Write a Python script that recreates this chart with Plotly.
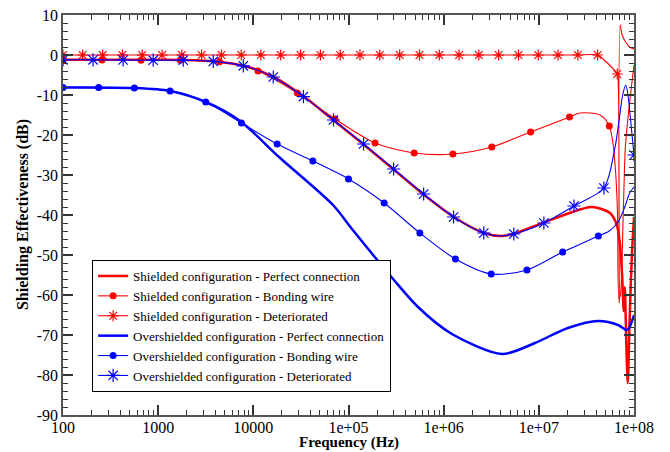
import plotly.graph_objects as go

# ---------------- data (frequency in Hz, shielding effectiveness in dB) ----------------
# Shielded configuration - Perfect connection
sh_perf_f = [100, 1000, 1830, 3950, 8000, 1.65e4, 3.4e4, 6.9e4, 1.42e5, 2.94e5, 6.07e5,
             1.28e6, 2.65e6, 4.0e6, 5.35e6, 1.1e7, 2.1e7, 3.6e7, 5.6e7, 6.6e7, 7.1e7,
             7.5e7, 7.8e7, 8.0e7, 8.3e7, 8.6e7, 9.0e7, 9.5e7, 1e8]
sh_perf_db = [-1.2, -1.2, -1.25, -1.6, -2.7, -5.5, -10.4, -16.25, -22.25, -28.5, -34.75,
              -40.5, -44.5, -45.25, -44.75, -42.0, -39.5, -38.0, -39.5, -42.5, -47.0,
              -55.0, -64.0, -58.0, -72.0, -82.0, -66.0, -50.0, -40.5]

# Shielded configuration - Bonding wire
sh_bond_f = [100, 257, 660, 1700, 4400, 1.12e4, 2.9e4, 7.2e4, 1.9e5, 4.9e5, 1.25e6,
             3.2e6, 8.2e6, 2.1e7, 2.7e7, 4.4e7, 5.5e7, 6.0e7, 6.4e7, 6.7e7, 6.95e7,
             7.2e7, 7.7e7, 8.1e7, 8.5e7, 9.1e7, 1e8]
sh_bond_db = [-1.2, -1.25, -1.3, -1.3, -1.7, -4.0, -9.5, -16.0, -22.0, -24.5, -24.75,
              -23.0, -19.25, -15.5, -14.5, -15.0, -17.75, -22.0, -29.0, -39.0, -61.0,
              -60.0, -40.0, -23.25, -17.5, -10.75, -2.5]
sh_bond_mf = [100, 257, 660, 1700, 4400, 1.12e4, 2.9e4, 7.2e4, 1.9e5, 4.9e5, 1.25e6,
              3.2e6, 8.2e6, 2.1e7, 5.5e7]
sh_bond_mdb = [-1.2, -1.25, -1.3, -1.3, -1.7, -4.0, -9.5, -16.0, -22.0, -24.5, -24.75,
               -23.0, -19.25, -15.5, -17.75]

# Shielded configuration - Deteriorated
sh_det_mf = [100, 161, 261, 421, 680, 1100, 1770, 2860, 4620, 7460, 1.2e4, 1.94e4,
             3.14e4, 5.07e4, 8.18e4, 1.32e5, 2.13e5, 3.45e5, 5.57e5, 9.0e5, 1.45e6,
             2.34e6, 3.78e6, 6.11e6, 9.86e6, 1.59e7, 2.57e7, 4.15e7, 6.67e7]
sh_det_mdb = [0.0] * 28 + [-4.75]
sh_det_f = sh_det_mf[:28] + [4.85e7, 5.8e7, 6.67e7, 6.85e7, 7.0e7, 7.15e7, 7.5e7, 8.3e7, 9.0e7, 1e8]
sh_det_db = sh_det_mdb[:28] + [-1.25, -3.0, -4.75, -8.0, -62.0, 7.5, 5.0, 3.0, 2.0, 1.5]

# Overshielded configuration - Perfect connection
ov_perf_f = [100, 562, 1334, 3162, 7250, 1.86e4, 6.87e4, 1.11e5, 2.94e5, 5.37e5, 1.22e6,
             4.1e6, 9.1e6, 2.02e7, 4.2e7, 6.8e7, 8.4e7, 9.0e7, 1e8]
ov_perf_db = [-8.1, -8.25, -9.0, -11.75, -16.5, -25.5, -37.5, -43.75, -56.0, -63.0, -69.75,
              -74.75, -72.0, -68.25, -66.5, -67.5, -68.8, -68.0, -65.0]

# Overshielded configuration - Bonding wire
ov_bond_mf = [100, 237, 562, 1334, 3162, 7499, 1.78e4, 4.22e4, 1.0e5, 2.37e5, 5.62e5,
              1.33e6, 3.16e6, 7.5e6, 1.78e7, 4.22e7]
ov_bond_mdb = [-8.1, -8.1, -8.25, -9.0, -11.75, -17.0, -22.25, -26.5, -31.0, -37.0, -44.5,
               -51.0, -54.75, -53.75, -49.25, -45.25]
ov_bond_f = ov_bond_mf + [5.5e7, 6.8e7, 8.0e7, 9.0e7, 1e8]
ov_bond_db = ov_bond_mdb + [-44.0, -41.75, -38.0, -34.5, -33.0]

# Overshielded configuration - Deteriorated
ov_det_mf = [100, 207, 428, 886, 1833, 3793, 7848, 1.62e4, 3.36e4, 6.95e4, 1.44e5,
             2.98e5, 6.16e5, 1.27e6, 2.64e6, 5.46e6, 1.13e7, 2.34e7, 4.83e7, 1e8]
ov_det_mdb = [-1.2, -1.2, -1.25, -1.3, -1.3, -1.6, -2.7, -5.5, -10.4, -16.25, -22.25,
              -28.5, -34.75, -40.5, -44.5, -44.75, -42.0, -37.75, -33.25, -25.0]
ov_det_f = ov_det_mf[:15] + [4.0e6] + ov_det_mf[15:19] + [6.3e7, 7.0e7, 7.6e7, 8.2e7, 8.7e7, 9.1e7, 1e8]
ov_det_db = ov_det_mdb[:15] + [-45.25] + ov_det_mdb[15:19] + [-23.25, -16.0, -10.0, -7.5, -10.5, -15.0, -25.0]

x_tickvals = [1e2, 1e3, 1e4, 1e5, 1e6, 1e7, 1e8]
x_ticktext = ["100", "1000", "10000", "1e+05", "1e+06", "1e+07", "1e+08"]
y_tickvals = [10, 0, -10, -20, -30, -40, -50, -60, -70, -80, -90]
y_ticktext = ["10", "0", "-10", "-20", "-30", "-40", "-50", "-60", "-70", "-80", "-90"]
x_title = "Frequency (Hz)"
y_title = "Shielding Effectiveness (dB)"

RED = "#ff0000"
BLUE = "#0000ff"
FONT = "Liberation Serif, Times New Roman, serif"

fig = go.Figure()


def add_series(name, f, db, color, width, mf=None, mdb=None, symbol=None, msize=7):
    """Curve, its symbols and one legend entry (line with symbol)."""
    fig.add_trace(go.Scatter(x=f, y=db, mode="lines", showlegend=False, hoverinfo="skip",
                             line=dict(color=color, width=width, shape="spline", smoothing=0.8)))
    marker = None
    if mf is not None:
        if symbol == "asterisk-open":
            marker = dict(symbol=symbol, size=msize, color=color, line=dict(color=color, width=1.2))
        else:
            marker = dict(symbol=symbol, size=msize, color=color, line=dict(width=0))
        fig.add_trace(go.Scatter(x=mf, y=mdb, mode="markers", showlegend=False,
                                 hoverinfo="skip", marker=marker))
    fig.add_trace(go.Scatter(x=[None], y=[None], name=name,
                             mode="lines+markers" if marker else "lines",
                             line=dict(color=color, width=width), marker=marker))


add_series("Shielded configuration - Perfect connection", sh_perf_f, sh_perf_db, RED, 2.5)
add_series("Shielded configuration - Bonding wire", sh_bond_f, sh_bond_db, RED, 1.1,
           sh_bond_mf, sh_bond_mdb, "circle", 7)
add_series("Shielded configuration - Deteriorated", sh_det_f, sh_det_db, RED, 1.1,
           sh_det_mf, sh_det_mdb, "asterisk-open", 9)
add_series("Overshielded configuration - Perfect connection", ov_perf_f, ov_perf_db, BLUE, 2.5)
add_series("Overshielded configuration - Bonding wire", ov_bond_f, ov_bond_db, BLUE, 1.1,
           ov_bond_mf, ov_bond_mdb, "circle", 7)
add_series("Overshielded configuration - Deteriorated", ov_det_f, ov_det_db, BLUE, 1.1,
           ov_det_mf, ov_det_mdb, "asterisk-open", 11)

minor_x = [m * 10 ** d for d in range(2, 8) for m in range(2, 10)]

axis_common = dict(showline=True, linecolor="#555555", linewidth=1.5, mirror="allticks",
                   ticks="inside", ticklen=10, tickwidth=1.5, tickcolor="#333333",
                   showgrid=False, zeroline=False, automargin=False,
                   tickfont=dict(family=FONT, size=16, color="black"))

fig.update_xaxes(type="log", range=[2, 8], tickvals=x_tickvals, ticktext=x_ticktext,
                 ticklabelstandoff=-3,
                 minor=dict(tickvals=minor_x, ticks="inside", ticklen=5, tickwidth=1.2,
                            tickcolor="#333333", showgrid=False),
                 **axis_common)
fig.update_yaxes(range=[-90, 10], tickvals=y_tickvals, ticktext=y_ticktext,
                 minor=dict(dtick=2, ticks="inside", ticklen=5, tickwidth=1.2,
                            tickcolor="#333333", showgrid=False),
                 **axis_common)

# axis titles placed just outside the tick labels
fig.add_annotation(text="<b>%s</b>" % x_title, xref="paper", yref="paper",
                   x=0.5, y=-0.0925, xanchor="center", yanchor="bottom", borderpad=0,
                   showarrow=False, font=dict(family=FONT, size=15, color="black"))
fig.add_annotation(text="<b>%s</b>" % y_title, xref="paper", yref="paper",
                   x=-0.07, y=0.5, xanchor="center", yanchor="middle", textangle=-90,
                   showarrow=False, font=dict(family=FONT, size=16, color="black"))

fig.update_layout(
    width=670, height=452,
    margin=dict(l=63, r=36, t=15, b=37),
    paper_bgcolor="white", plot_bgcolor="white",
    legend=dict(x=0.051, y=0.3875, xanchor="left", yanchor="top",
                bgcolor="white", bordercolor="black", borderwidth=1,
                font=dict(family=FONT, size=13, color="black"), itemwidth=30),
    showlegend=True,
)

fig.write_html("out.html")
